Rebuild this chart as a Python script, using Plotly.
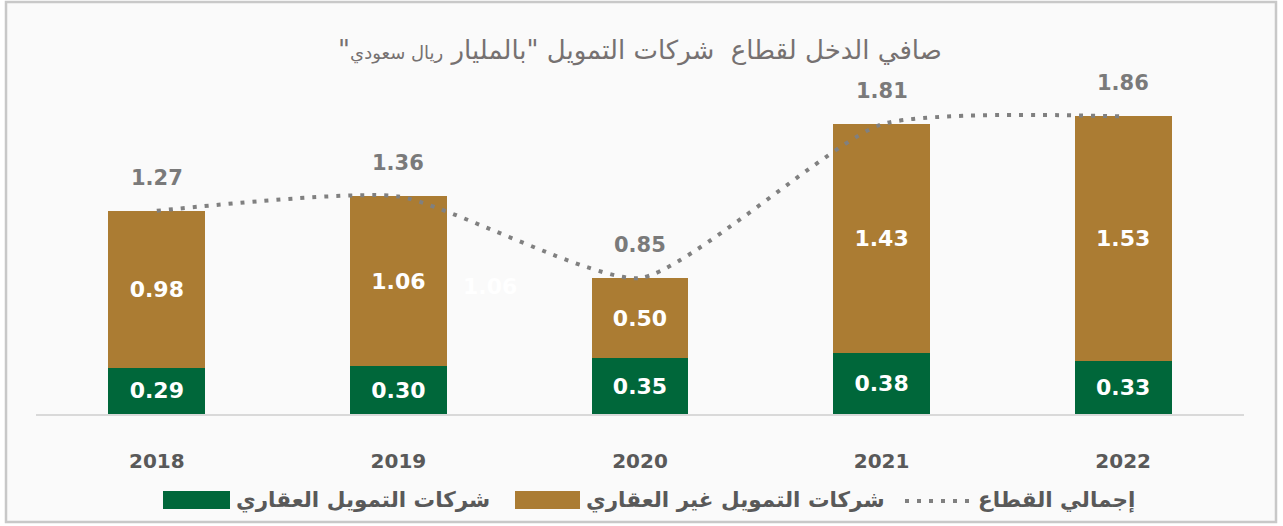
import plotly.graph_objects as go

# ---------------- data ----------------
years = ["2018", "2019", "2020", "2021", "2022"]
real_estate = [0.29, 0.30, 0.35, 0.38, 0.33]          # شركات التمويل العقاري
non_real_estate = [0.98, 1.06, 0.50, 1.43, 1.53]      # شركات التمويل غير العقاري
sector_total = [1.27, 1.36, 0.85, 1.81, 1.86]         # إجمالي القطاع

legend_names = ["شركات التمويل العقاري", "شركات التمويل غير العقاري", "إجمالي القطاع"]
title_main = 'صافي الدخل لقطاع  شركات التمويل "بالمليار '
title_unit = 'ريال سعودي'

# ---------------- style ----------------
W, H = 1283, 526
L, R, T, B = 36, 39, 60, 112
PW, PH = W - L - R, H - T - B
GREEN = "#00673a"
GOLD = "#ab7c33"
GRAY_LINE = "#808080"
LABEL_GRAY = "#7a7a7a"
DARK = "#595959"
FONT = "DejaVu Sans"


def px(xp):
    return (xp - L) / PW


def py(yp):
    return (H - B - yp) / PH


fig = go.Figure()
fig.add_trace(go.Bar(
    x=years, y=real_estate, name=legend_names[0], marker=dict(color=GREEN, line=dict(width=0)),
    text=[f"{v:.2f}" for v in real_estate], textposition="inside", insidetextanchor="middle",
    textangle=0, textfont=dict(family=FONT, size=22, color="white", weight="bold"),
    hoverinfo="skip"))
fig.add_trace(go.Bar(
    x=years, y=non_real_estate, name=legend_names[1], marker=dict(color=GOLD, line=dict(width=0)),
    text=[f"{v:.2f}" for v in non_real_estate], textposition="inside", insidetextanchor="middle",
    textangle=0, textfont=dict(family=FONT, size=22, color="white", weight="bold"),
    hoverinfo="skip"))
fig.add_trace(go.Scatter(
    x=years, y=sector_total, name=legend_names[2], mode="lines",
    line=dict(color=GRAY_LINE, width=4, dash="4px,8px", shape="spline", smoothing=0.55),
    hoverinfo="skip"))

# total labels (category index positions)
for i, v in enumerate(sector_total):
    fig.add_annotation(x=i, y=v, yshift=33, text=f"{v:.2f}", showarrow=False,
                       font=dict(family=FONT, size=21, color=LABEL_GRAY, weight="bold"))

# faint duplicate label seen in the reference
fig.add_annotation(x=1.38, y=non_real_estate[1] * 0.75, text=f"{non_real_estate[1]:.2f}", showarrow=False,
                   font=dict(family=FONT, size=22, color="#ffffff", weight="bold"))

# background panel with border
fig.add_shape(type="rect", xref="paper", yref="paper", x0=px(6), x1=px(1276), y0=py(522), y1=py(2),
              fillcolor="#fafafa", line=dict(color="#c8c8c8", width=2.5), layer="below")

# manual legend
leg_y = 500
items = [
    ("box", GREEN, 163, 230, legend_names[0]),
    ("box", GOLD, 515, 580, legend_names[1]),
    ("dots", GRAY_LINE, 905, 972, legend_names[2]),
]
for kind, col, x0, x1, name in items:
    if kind == "box":
        fig.add_shape(type="rect", xref="paper", yref="paper", x0=px(x0), x1=px(x1),
                      y0=py(leg_y + 9), y1=py(leg_y - 9), fillcolor=col, line=dict(width=0))
    else:
        fig.add_shape(type="line", xref="paper", yref="paper", x0=px(x0), x1=px(x1),
                      y0=py(leg_y + 1), y1=py(leg_y + 1), line=dict(color=col, width=4, dash="4px,8px"))
    fig.add_annotation(xref="paper", yref="paper", x=px(x1 + 4), y=py(leg_y), xanchor="left",
                       yanchor="middle", text=name, showarrow=False,
                       font=dict(family=FONT, size=21.5, color=DARK, weight="bold"))

fig.update_layout(
    width=W, height=H, margin=dict(l=L, r=R, t=T, b=B),
    paper_bgcolor="white", plot_bgcolor="rgba(0,0,0,0)",
    barmode="stack", bargap=0.6, showlegend=False,
    title=dict(text=title_main + f'<span style="font-size:18px">{title_unit}</span>"\u200f',
               x=px(640), xref="paper", xanchor="center", y=1 - 50 / H, yanchor="middle",
               font=dict(family=FONT, size=26, color="#767171")),
    xaxis=dict(type="category", range=[-0.5, len(years) - 0.5], showline=True, linecolor="#d9d9d9",
               linewidth=2, showgrid=False, zeroline=False, ticks="", ticklabelstandoff=28,
               tickfont=dict(family=FONT, size=20, color=DARK, weight="bold")),
    yaxis=dict(visible=False, range=[0, PH / 160], showgrid=False, zeroline=False),
)

fig.write_html("out.html", config={"displayModeBar": False},
               post_script="document.body.style.margin='0';")
